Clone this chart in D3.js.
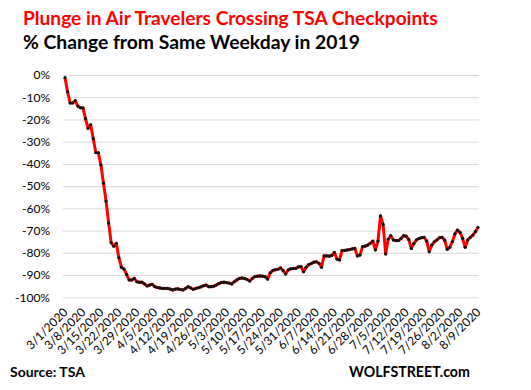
<!DOCTYPE html>
<html>
<head>
<meta charset="utf-8">
<script src="https://cdn.jsdelivr.net/npm/d3@7/dist/d3.min.js"></script>
<style>
  body { margin: 0; background: #fff; }
  svg { font-family: Lato, "Open Sans", sans-serif; }
</style>
</head>
<body>
<svg id="svg" width="531" height="390"></svg>
<script>
// daily % change vs same weekday 2019, from 3/1/2020 to 8/9/2020
var startDay = new Date(2020, 2, 1);
var endDay = new Date(2020, 7, 9);
var pctChange = [
  -1.2, -7.5, -12.6, -12.6, -11.5, -14, -14.7, -14.8, -19.6, -24,
  -22.4, -28.6, -34.9, -35, -40.5, -48.7, -56.7, -66.6, -75.4, -77,
  -75.7, -82.2, -86.5, -87.3, -89.7, -92.2, -92.2, -91.5, -93, -93.2,
  -93.2, -94, -94.9, -94.5, -94.2, -95.2, -95.6, -95.8, -96, -96,
  -96, -96.3, -96.7, -96.3, -96.2, -96.5, -96.7, -96, -95.2, -95.8,
  -96.4, -96, -95.7, -95.3, -94.8, -94.5, -95.2, -95.2, -95, -94.5,
  -93.8, -93.3, -93.2, -93.4, -93.6, -94, -93, -92.2, -91.5, -91.3,
  -91.5, -92, -92.7, -91.5, -90.7, -90.5, -90.4, -90.5, -90.7, -91.8,
  -89, -88, -87.6, -87.4, -86.7, -88, -89.5, -87.7, -87.2, -87,
  -87, -86.3, -86.2, -88.5, -86.5, -85.3, -84.8, -84.2, -84, -84.7,
  -86.5, -81.3, -81.4, -81.5, -81.2, -79.8, -82.8, -83.2, -79, -78.9,
  -78.7, -78.5, -78.2, -78, -81.4, -81, -77.2, -77, -76.5, -75.7,
  -74.7, -78.7, -74.7, -63.4, -67.2, -80.5, -73.8, -72.3, -74.2, -74.5,
  -74.5, -73.5, -72.3, -72.5, -74, -78, -75.8, -74.2, -73.5, -73.2,
  -73, -74.7, -79.5, -76.5, -75, -74.2, -73.2, -73, -74.3, -78.4,
  -77.5, -75, -71.5, -69.8, -70.8, -73.5, -77.5, -74.2, -73, -72,
  -70.5, -68.5
];
var yTicks = [0, -10, -20, -30, -40, -50, -60, -70, -80, -90, -100];
var xTickLabels = ["3/1/2020", "3/8/2020", "3/15/2020", "3/22/2020", "3/29/2020",
  "4/5/2020", "4/12/2020", "4/19/2020", "4/26/2020", "5/3/2020", "5/10/2020",
  "5/17/2020", "5/24/2020", "5/31/2020", "6/7/2020", "6/14/2020", "6/21/2020",
  "6/28/2020", "7/5/2020", "7/12/2020", "7/19/2020", "7/26/2020", "8/2/2020", "8/9/2020"];

var svg = d3.select("#svg");
var days = d3.timeDay.range(startDay, d3.timeDay.offset(endDay, 1));
var parseTick = d3.timeParse("%m/%d/%Y");
var tickDates = xTickLabels.map(function(s) { return parseTick(s); });

var x = d3.scaleTime().domain([startDay, endDay]).range([65, 478]);
var y = d3.scaleLinear().domain([-100, 0]).range([297.3, 75]);

// titles
var fit = function(sel, w) {
  var n = sel.node();
  var fs = parseFloat(sel.attr("font-size"));
  sel.attr("font-size", fs * w / n.getComputedTextLength());
};
svg.append("text").attr("x", 23).attr("y", 25)
  .attr("font-size", 19).attr("font-weight", "bold").attr("fill", "#ff0000")
  .text("Plunge in Air Travelers Crossing TSA Checkpoints")
  .call(fit, 415);
svg.append("text").attr("x", 23).attr("y", 49)
  .attr("font-size", 19).attr("font-weight", "bold").attr("fill", "#000")
  .text("% Change from Same Weekday in 2019")
  .call(fit, 337);

// y axis + gridlines
var yAxis = svg.append("g").attr("transform", "translate(63,0)")
  .call(d3.axisLeft(y).tickValues(yTicks).tickSize(-416).tickPadding(13)
    .tickFormat(function(d) { return d + "%"; }));
yAxis.select(".domain").remove();
yAxis.selectAll("line").attr("stroke", "#d9d9d9").attr("stroke-width", 1);
yAxis.selectAll("text").attr("font-size", 12).attr("fill", "#000")
  .attr("font-family", "Lato, sans-serif");

// x axis labels
var xAxis = svg.append("g").attr("transform", "translate(0,297)")
  .call(d3.axisBottom(x).tickValues(tickDates).tickSize(0)
    .tickFormat(function(d, i) { return xTickLabels[i]; }));
xAxis.select(".domain").remove();
xAxis.selectAll("text")
  .attr("font-size", 12).attr("fill", "#000").attr("font-family", "Lato, sans-serif")
  .attr("text-anchor", "end").attr("dy", null).attr("y", 0)
  .attr("transform", "translate(3,16) rotate(-45)");

// line
var line = d3.line()
  .x(function(d, i) { return x(days[i]); })
  .y(function(d) { return y(d); });
svg.append("path").datum(pctChange)
  .attr("d", line).attr("fill", "none")
  .attr("stroke", "#ff0000").attr("stroke-width", 3)
  .attr("stroke-linejoin", "round");
svg.append("g").selectAll("circle").data(pctChange).enter()
  .append("circle")
  .attr("cx", function(d, i) { return x(days[i]); })
  .attr("cy", function(d) { return y(d); })
  .attr("r", 1.6)
  .attr("fill", "#111");

// footer
svg.append("text").attr("x", 10).attr("y", 377)
  .attr("font-size", 14).attr("font-weight", "bold").text("Source: TSA");
svg.append("text").attr("x", 349).attr("y", 377)
  .attr("font-size", 15).attr("font-weight", "bold").text("WOLFSTREET.com")
  .call(fit, 121);
</script>
</body>
</html>
